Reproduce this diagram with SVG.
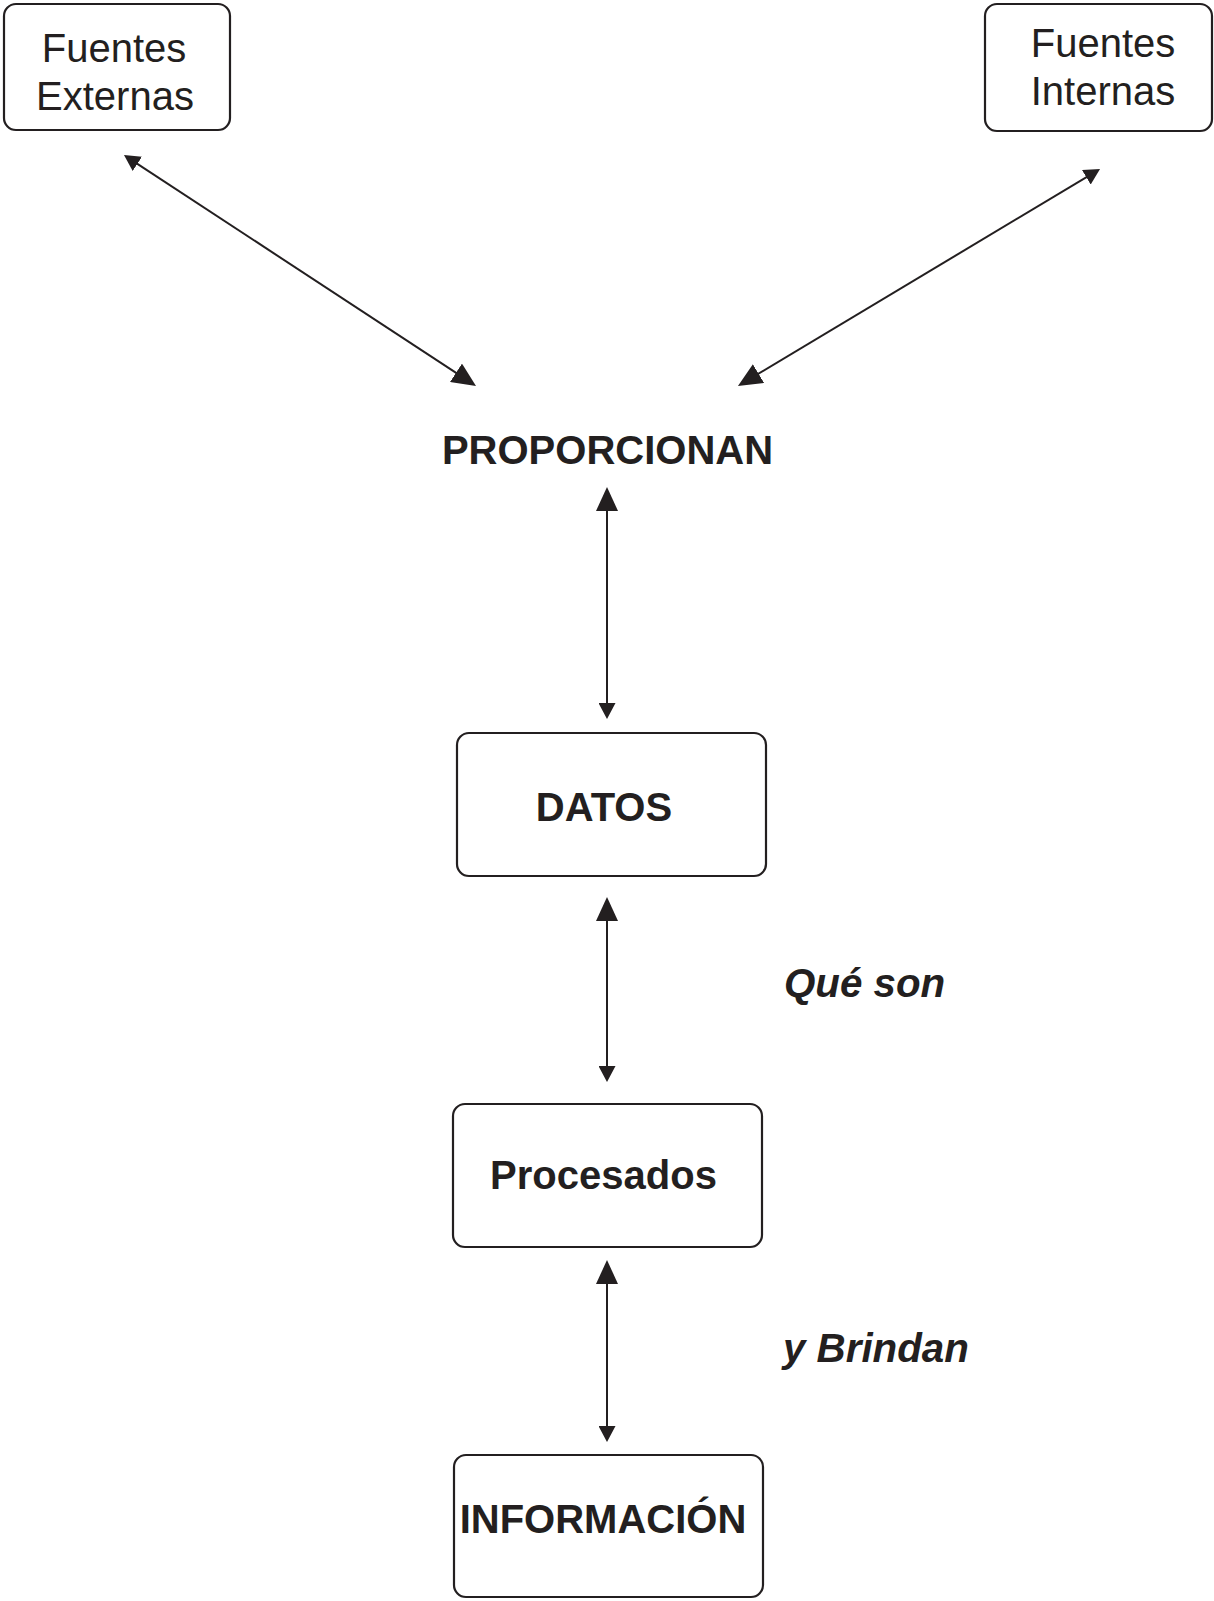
<svg xmlns="http://www.w3.org/2000/svg" width="1214" height="1601" viewBox="0 0 1214 1601">
  <style>
    .box { fill: #ffffff; stroke: #231f20; stroke-width: 2.2; }
    .link { stroke: #231f20; stroke-width: 2; fill: none; }
    .reg { font-family: "Liberation Sans", Arial, sans-serif; font-size: 40px; fill: #231f20; text-anchor: middle; }
    .bold { font-family: "Liberation Sans", Arial, sans-serif; font-size: 40px; font-weight: bold; fill: #231f20; text-anchor: middle; }
    .note { font-family: "Liberation Sans", Arial, sans-serif; font-size: 40.3px; font-weight: bold; font-style: italic; fill: #231f20; }
  </style>
  <defs>
    <marker id="headBig" markerUnits="userSpaceOnUse" markerWidth="24" markerHeight="22" refX="18" refY="11" orient="auto-start-reverse">
      <path d="M0,0 L24,11 L0,22 Z" fill="#231f20"/>
    </marker>
    <marker id="headSmall" markerUnits="userSpaceOnUse" markerWidth="16" markerHeight="17" refX="10" refY="8.5" orient="auto-start-reverse">
      <path d="M0,0 L16,8.5 L0,17 Z" fill="#231f20"/>
    </marker>
  </defs>
  <rect width="1214" height="1601" fill="#ffffff"/>

  <g id="connectors">
    <line class="link" x1="129" y1="158.3" x2="471" y2="382.7" marker-start="url(#headSmall)" marker-end="url(#headBig)"/>
    <line class="link" x1="1094.9" y1="172.1" x2="743.1" y2="382.9" marker-start="url(#headSmall)" marker-end="url(#headBig)"/>
    <line class="link" x1="607" y1="493" x2="607" y2="713" marker-start="url(#headBig)" marker-end="url(#headSmall)"/>
    <line class="link" x1="607" y1="903" x2="607" y2="1076" marker-start="url(#headBig)" marker-end="url(#headSmall)"/>
    <line class="link" x1="607" y1="1266" x2="607" y2="1436" marker-start="url(#headBig)" marker-end="url(#headSmall)"/>
  </g>

  <g id="fuentes-externas">
    <rect class="box" x="4" y="4" width="226" height="126" rx="12"/>
    <text class="reg" x="114" y="62">Fuentes</text>
    <text class="reg" x="115" y="110">Externas</text>
  </g>

  <g id="fuentes-internas">
    <rect class="box" x="985" y="4" width="227" height="127" rx="12"/>
    <text class="reg" x="1103" y="57">Fuentes</text>
    <text class="reg" x="1103" y="105">Internas</text>
  </g>

  <g id="proporcionan">
    <text class="bold" x="607.5" y="464">PROPORCIONAN</text>
  </g>

  <g id="datos">
    <rect class="box" x="457" y="733" width="309" height="143" rx="12"/>
    <text class="bold" x="604" y="821">DATOS</text>
  </g>

  <g id="procesados">
    <rect class="box" x="453" y="1104" width="309" height="143" rx="12"/>
    <text class="bold" x="603.5" y="1189">Procesados</text>
  </g>

  <g id="informacion">
    <rect class="box" x="454" y="1455" width="309" height="142" rx="12"/>
    <text class="bold" x="603" y="1533">INFORMACIÓN</text>
  </g>

  <g id="label-que-son">
    <text class="note" x="784" y="997">Qué son</text>
  </g>

  <g id="label-y-brindan">
    <text class="note" x="783" y="1362">y Brindan</text>
  </g>
</svg>
